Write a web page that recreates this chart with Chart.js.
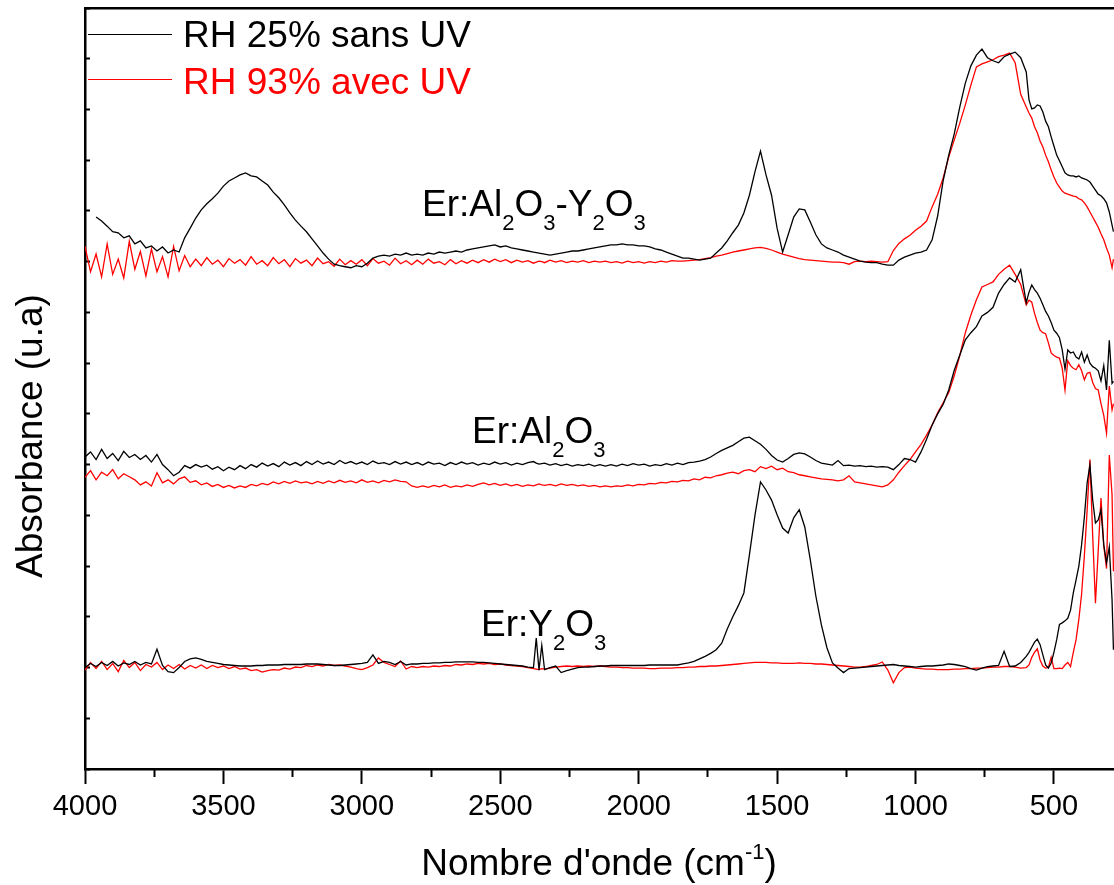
<!DOCTYPE html>
<html>
<head>
<meta charset="utf-8">
<script src="https://cdn.jsdelivr.net/npm/chart.js@4.4.1/dist/chart.umd.min.js"></script>
<style>
  html, body { margin: 0; padding: 0; background: #fff; overflow: hidden; }
  #wrap { position: relative; width: 1114px; height: 885px; font-family: 'Liberation Sans', Arial, sans-serif; }
  #wrap canvas { position: absolute; left: 0; top: 0; }
  .txt { position: absolute; font-size: 37px; line-height: 1; white-space: nowrap; color: #000; }
  .sb { font-size: 22px; position: relative; top: 14px; }
  .sp { font-size: 22px; position: relative; top: -16px; }
  .ln { position: absolute; left: 88px; width: 84px; height: 0; border-top: 1.5px solid #000; }
</style>
</head>
<body>
<div id="wrap">
  <canvas id="spec" width="1114" height="885"></canvas>

  <!-- légende -->
  <div class="ln" style="top:34px"></div>
  <div class="txt" style="left:183px; top:16px">RH 25% sans UV</div>
  <div class="ln" style="top:79px; border-color:#f00"></div>
  <div class="txt" style="left:183px; top:63px; color:#f00">RH 93% avec UV</div>

  <!-- noms des échantillons -->
  <div class="txt" style="left:422px; top:185px">Er:Al<span class="sb">2</span>O<span class="sb">3</span>-Y<span class="sb">2</span>O<span class="sb">3</span></div>
  <div class="txt" style="left:472px; top:412px">Er:Al<span class="sb">2</span>O<span class="sb">3</span></div>
  <div class="txt" style="left:481px; top:605px">Er:Y<span class="sb">2</span>O<span class="sb">3</span></div>

  <!-- titres des axes -->
  <div class="txt" style="left:599px; top:844px; transform:translateX(-50%)">Nombre d'onde (cm<span class="sp">-1</span>)</div>
  <div class="txt" style="left:11px; top:578px; transform-origin:0 0; transform:rotate(-90deg)">Absorbance (u.a)</div>
</div>

<script>
/* ===== données ===== */
const FONT = "'Liberation Sans', Arial, sans-serif";

const majorTicks = [4000, 3500, 3000, 2500, 2000, 1500, 1000, 500];
const minorTicks = [3750, 3250, 2750, 2250, 1750, 1250, 750];

const wavenumber = [
  4000, 3980, 3960, 3940, 3920, 3900, 3880, 3860, 3840, 3820,
  3800, 3780, 3760, 3740, 3720, 3700, 3680, 3660, 3640, 3620,
  3600, 3580, 3560, 3540, 3520, 3500, 3480, 3460, 3440, 3420,
  3400, 3380, 3360, 3340, 3320, 3300, 3280, 3260, 3240, 3220,
  3200, 3180, 3160, 3140, 3120, 3100, 3080, 3060, 3040, 3020,
  3000, 2980, 2960, 2940, 2920, 2900, 2880, 2860, 2840, 2820,
  2800, 2780, 2760, 2740, 2720, 2700, 2680, 2660, 2640, 2620,
  2600, 2580, 2560, 2540, 2520, 2500, 2480, 2460, 2440, 2420,
  2400, 2380, 2370, 2360, 2350, 2340, 2320, 2300, 2280, 2260,
  2240, 2220, 2200, 2180, 2160, 2140, 2120, 2100, 2080, 2060,
  2040, 2020, 2000, 1980, 1960, 1940, 1920, 1900, 1880, 1860,
  1840, 1820, 1800, 1780, 1760, 1740, 1720, 1700, 1680, 1660,
  1640, 1620, 1600, 1580, 1560, 1540, 1520, 1500, 1480, 1460,
  1440, 1420, 1400, 1380, 1360, 1340, 1320, 1300, 1280, 1260,
  1240, 1220, 1200, 1180, 1160, 1140, 1120, 1100, 1080, 1060,
  1040, 1020, 1000, 980, 960, 940, 920, 900, 880, 860,
  840, 820, 800, 780, 760, 740, 720, 700, 680, 660,
  640, 620, 600, 590, 580, 570, 560, 550, 540, 530,
  520, 510, 500, 490, 480, 470, 460, 450, 440, 430,
  420, 410, 400, 390, 380, 370, 360, 350, 340, 330,
  320, 310, 300, 290, 285
];

/* Er:Al2O3-Y2O3 */
const alY_rh25 = [
  null, null, 10.88, 10.80, 10.70, 10.59, 10.57, 10.47, 10.51, 10.35,
  10.41, 10.27, 10.31, 10.21, 10.29, 10.17, 10.23, 10.19, 10.47, 10.66,
  10.86, 11.02, 11.14, 11.24, 11.35, 11.49, 11.59, 11.65, 11.71, 11.75,
  11.69, 11.67, 11.59, 11.51, 11.37, 11.26, 11.12, 10.96, 10.82, 10.70,
  10.59, 10.45, 10.31, 10.17, 10.05, 9.95, 9.92, 9.90, 9.88, 9.92,
  9.90, 9.97, 10.07, 10.11, 10.13, 10.11, 10.15, 10.13, 10.17, 10.13,
  10.15, 10.13, 10.17, 10.15, 10.19, 10.17, 10.19, 10.21, 10.19, 10.23,
  10.25, 10.27, 10.29, 10.31, 10.33, 10.29, 10.31, 10.27, 10.25, 10.23,
  10.21, 10.19, 10.18, 10.17, 10.16, 10.15, 10.13, 10.15, 10.17, 10.19,
  10.21, 10.21, 10.23, 10.25, 10.27, 10.29, 10.31, 10.33, 10.33, 10.35,
  10.33, 10.33, 10.31, 10.31, 10.29, 10.25, 10.23, 10.19, 10.15, 10.11,
  10.07, 10.07, 10.05, 10.03, 10.05, 10.07, 10.17, 10.27, 10.41, 10.57,
  10.72, 10.96, 11.31, 11.77, 12.18, 11.71, 11.31, 10.66, 10.19, 10.53,
  10.88, 11.04, 11.02, 10.78, 10.53, 10.35, 10.27, 10.23, 10.19, 10.13,
  10.09, 10.05, 10.01, 9.99, 9.98, 9.98, 9.95, 9.93, 9.93, 10.03,
  10.09, 10.13, 10.17, 10.19, 10.23, 10.43, 10.90, 11.60, 12.10, 12.52,
  13.05, 13.52, 13.86, 14.07, 14.19, 14.02, 13.96, 13.92, 14.04, 14.09,
  14.13, 14.02, 13.74, 13.19, 13.01, 13.03, 13.09, 13.07, 12.95, 12.77,
  12.66, 12.46, 12.28, 12.10, 11.99, 11.87, 11.75, 11.71, 11.69, 11.69,
  11.67, 11.69, 11.65, 11.63, 11.61, 11.57, 11.49, 11.41, 11.33, 11.30,
  11.24, 11.16, 10.98, 10.72, 10.59
];
const alY_rh93 = [
  10.30, 9.80, 10.15, 9.70, 10.35, 9.75, 10.05, 9.68, 10.40, 9.85,
  10.20, 9.72, 10.25, 9.80, 10.10, 9.70, 10.30, 9.82, 10.12, 9.90,
  10.05, 9.92, 10.08, 9.95, 10.03, 9.90, 10.06, 9.97, 10.04, 9.93,
  10.10, 9.95, 10.02, 9.92, 10.08, 9.96, 10.04, 9.90, 10.06, 9.97,
  10.03, 9.92, 10.07, 9.96, 10.00, 9.91, 10.05, 9.94, 10.02, 9.95,
  10.04, 9.92, 10.06, 9.97, 10.01, 9.93, 10.07, 9.96, 10.02, 9.94,
  10.03, 9.95, 10.05, 9.97, 10.00, 9.94, 10.04, 9.96, 10.02, 9.97,
  10.03, 9.98, 10.04, 9.99, 10.05, 10.00, 10.04, 9.98, 10.03, 9.99,
  10.02, 9.97, 9.99, 10.01, 10.00, 9.98, 10.03, 9.99, 10.02, 9.98,
  10.01, 9.99, 10.02, 9.98, 10.01, 9.99, 10.01, 9.98, 10.00, 9.97,
  10.01, 9.98, 10.00, 9.97, 10.00, 9.98, 10.01, 9.99, 10.02, 10.01,
  10.01, 10.02, 10.03, 10.04, 10.06, 10.08, 10.11, 10.13, 10.16, 10.19,
  10.21, 10.23, 10.25, 10.27, 10.28, 10.26, 10.23, 10.19, 10.15, 10.12,
  10.09, 10.06, 10.04, 10.03, 10.02, 10.01, 10.00, 9.99, 9.99, 9.98,
  9.95, 10.00, 10.01, 10.00, 10.01, 10.00, 9.99, 10.00, 10.22, 10.36,
  10.45, 10.52, 10.62, 10.70, 10.80, 11.08, 11.33, 11.65, 12.06, 12.40,
  12.73, 13.09, 13.48, 13.84, 13.90, 13.94, 13.98, 14.04, 14.07, 14.11,
  13.92, 13.30, 13.05, 12.93, 12.83, 12.66, 12.54, 12.38, 12.26, 12.10,
  11.97, 11.81, 11.67, 11.55, 11.47, 11.39, 11.35, 11.33, 11.31, 11.29,
  11.28, 11.24, 11.22, 11.16, 11.08, 10.98, 10.88, 10.78, 10.68, 10.55,
  10.43, 10.27, 10.13, 9.88, 10.05
];

/* Er:Al2O3 */
const al_rh25 = [
  6.15, 6.25, 6.10, 6.30, 6.12, 6.22, 6.08, 6.26, 6.14, 6.20,
  6.10, 6.18, 6.05, 6.20, 6.00, 5.90, 5.78, 5.85, 5.98, 5.93,
  6.00, 5.95, 5.99, 5.91, 5.96, 5.88, 5.95, 5.90, 5.98, 5.92,
  6.00, 5.95, 6.03, 5.97, 6.02, 5.96, 6.05, 5.99, 6.04, 5.98,
  6.06, 6.00, 6.07, 6.01, 6.05, 6.00, 6.08, 6.02, 6.06, 6.01,
  6.05, 6.00, 6.07, 6.02, 6.04, 6.00, 6.06, 6.01, 6.05, 6.00,
  6.04, 5.99, 6.05, 6.01, 6.03, 5.98, 6.04, 6.00, 6.05, 6.01,
  6.04, 5.99, 6.03, 6.00, 6.05, 6.01, 6.04, 5.99, 6.03, 6.00,
  6.04, 6.06, 6.03, 6.01, 6.02, 6.03, 5.99, 6.02, 5.98, 6.01,
  5.97, 6.00, 5.98, 6.01, 5.97, 6.00, 5.97, 6.00, 5.97, 6.01,
  5.98, 6.02, 5.99, 6.01, 5.97, 6.00, 5.98, 6.02, 5.99, 6.03,
  6.00, 6.04, 6.05, 6.07, 6.10, 6.15, 6.22, 6.28, 6.33, 6.38,
  6.45, 6.52, 6.54, 6.47, 6.40, 6.30, 6.18, 6.09, 6.05, 6.12,
  6.20, 6.23, 6.21, 6.15, 6.08, 6.03, 6.01, 5.99, 6.08, 5.98,
  5.99, 5.97, 5.98, 5.96, 5.97, 5.95, 5.96, 5.95, 5.90, 6.00,
  6.12, 6.10, 6.05, 6.25, 6.50, 6.78, 7.00, 7.19, 7.47, 7.86,
  8.16, 8.46, 8.60, 8.72, 8.93, 9.00, 9.10, 9.38, 9.55, 9.68,
  9.60, 9.84, 9.19, 9.40, 9.54, 9.45, 9.38, 9.28, 9.15, 9.02,
  8.93, 8.80, 8.65, 8.59, 8.50, 8.26, 7.88, 8.26, 8.20, 8.22,
  8.12, 8.08, 8.22, 8.02, 8.16, 8.00, 7.93, 7.90, 7.85, 7.65,
  7.95, 7.47, 8.45, 7.60, 7.64
];
const al_rh93 = [
  5.75, 5.88, 5.70, 5.85, 5.78, 5.90, 5.72, 5.82, 5.76, 5.70,
  5.60, 5.66, 5.58, 5.84, 5.64, 5.70, 5.62, 5.72, 5.76, 5.65,
  5.68, 5.60, 5.64, 5.57, 5.61, 5.55, 5.59, 5.54, 5.58, 5.55,
  5.61, 5.58, 5.63, 5.60, 5.66, 5.62, 5.67, 5.63, 5.68, 5.64,
  5.66, 5.62, 5.67, 5.63, 5.68, 5.64, 5.69, 5.65, 5.68, 5.64,
  5.70, 5.65, 5.68, 5.64, 5.69, 5.66, 5.70, 5.67, 5.66, 5.58,
  5.55, 5.58, 5.55, 5.59, 5.56, 5.60, 5.55, 5.58, 5.56, 5.60,
  5.57, 5.61, 5.64, 5.60, 5.63, 5.59, 5.62, 5.58, 5.61, 5.57,
  5.60, 5.58, 5.60, 5.62, 5.60, 5.59, 5.61, 5.58, 5.62, 5.59,
  5.61, 5.58, 5.60, 5.57, 5.59, 5.56, 5.58, 5.56, 5.58, 5.57,
  5.60, 5.58, 5.61, 5.60, 5.63, 5.62, 5.65, 5.64, 5.67, 5.66,
  5.69, 5.68, 5.72, 5.70, 5.75, 5.74, 5.78, 5.80, 5.83, 5.85,
  5.82, 5.88, 5.90, 5.86, 5.96, 5.92, 5.97, 5.90, 5.93, 5.86,
  5.84, 5.80, 5.78, 5.76, 5.74, 5.72, 5.71, 5.70, 5.68, 5.70,
  5.78, 5.66, 5.64, 5.62, 5.60, 5.58, 5.56, 5.60, 5.70, 5.85,
  5.98, 6.10, 6.25, 6.40, 6.58, 6.78, 7.02, 7.22, 7.42, 7.75,
  8.15, 8.60, 8.95, 9.25, 9.50, 9.55, 9.60, 9.75, 9.85, 9.93,
  9.75, 9.55, 9.15, 9.24, 9.20, 8.98, 8.80, 8.65, 8.60, 8.58,
  8.40, 8.20, 8.15, 8.12, 8.10, 7.90, 7.47, 8.05, 7.95, 7.90,
  7.87, 7.97, 7.85, 7.67, 7.80, 7.82, 7.62, 7.50, 7.47, 7.20,
  6.97, 6.62, 7.55, 7.08, 7.20
];

/* Er:Y2O3 */
const y_rh25 = [
  2.00, 2.08, 2.02, 2.10, 2.04, 2.12, 2.03, 2.09, 2.06, 2.12,
  2.05, 2.10, 2.07, 2.36, 2.04, 1.92, 1.90, 2.00, 2.12, 2.17,
  2.19, 2.16, 2.12, 2.10, 2.08, 2.06, 2.05, 2.04, 2.03, 2.03,
  2.03, 2.04, 2.04, 2.05, 2.05, 2.05, 2.06, 2.06, 2.06, 2.06,
  2.07, 2.07, 2.07, 2.06, 2.05, 2.04, 2.04, 2.05, 2.06, 2.07,
  2.08, 2.10, 2.25, 2.08, 2.12, 2.10, 2.06, 2.12, 2.05, 2.07,
  2.07, 2.08, 2.08, 2.09, 2.09, 2.10, 2.10, 2.11, 2.11, 2.11,
  2.11, 2.10, 2.10, 2.09, 2.08, 2.07, 2.06, 2.05, 2.04, 2.03,
  2.01, 2.00, 2.58, 1.95, 2.44, 1.96, 2.00, 2.03, 1.90, 1.94,
  1.97, 2.00, 2.01, 2.01, 2.02, 2.03, 2.03, 2.04, 2.04, 2.04,
  2.04, 2.04, 2.04, 2.04, 2.05, 2.05, 2.05, 2.05, 2.05, 2.05,
  2.07, 2.09, 2.12, 2.17, 2.22, 2.28, 2.35, 2.48, 2.76, 3.00,
  3.22, 3.47, 4.22, 5.00, 5.66, 5.50, 5.30, 5.01, 4.75, 4.65,
  4.95, 5.11, 4.77, 4.12, 3.41, 2.84, 2.39, 2.09, 1.99, 1.90,
  1.98, 1.99, 2.00, 2.01, 2.02, 2.03, 2.04, 2.05, 2.06, 2.04,
  2.03, 2.02, 2.01, 2.02, 2.03, 2.03, 2.04, 2.05, 2.07, 2.06,
  2.04, 2.02, 1.98, 1.95, 1.99, 2.02, 2.03, 2.04, 2.32, 2.02,
  2.03, 2.10, 2.22, 2.30, 2.40, 2.50, 2.56, 2.45, 2.25, 2.05,
  1.99, 2.09, 2.30, 2.55, 2.85, 2.88, 2.92, 2.97, 3.13, 3.47,
  3.73, 4.00, 4.42, 4.97, 5.64, 5.99, 5.30, 4.85, 4.91, 5.11,
  4.42, 4.06, 4.38, 3.33, 2.35
];
const y_rh93 = [
  1.95, 2.10, 1.98, 2.12, 1.96, 2.08, 1.92, 2.14, 2.00, 2.10,
  1.94, 2.06, 2.01, 2.10, 1.96, 2.05, 1.98, 2.06, 1.97, 2.04,
  1.99, 2.05, 1.98, 2.04, 2.00, 2.03, 1.98, 2.02, 1.97, 1.99,
  1.94, 1.96, 1.91, 1.94, 1.96, 1.95, 1.99, 1.97, 2.01, 2.00,
  2.04, 2.02, 2.05, 2.03, 2.06, 2.04, 2.05, 2.03, 2.01, 1.98,
  1.96, 2.00, 2.05, 2.19, 2.10, 2.06, 2.02, 2.13, 1.97, 2.02,
  2.00, 2.02, 2.01, 2.03, 2.02, 2.04, 2.03, 2.06, 2.05, 2.07,
  2.06, 2.08, 2.07, 2.08, 2.06, 2.07, 2.05, 2.04, 2.03, 2.02,
  2.00, 1.98, 1.97, 1.96, 1.98, 1.97, 1.99, 2.01, 2.02, 2.03,
  2.02, 2.03, 2.02, 2.03, 2.02, 2.03, 2.02, 2.01, 2.01, 2.00,
  2.00, 1.99, 1.99, 1.99, 1.98, 1.98, 1.99, 1.99, 1.99, 2.00,
  2.00, 2.01, 2.01, 2.02, 2.02, 2.03, 2.03, 2.04, 2.05, 2.06,
  2.07, 2.08, 2.09, 2.10, 2.10, 2.10, 2.09, 2.09, 2.08, 2.08,
  2.08, 2.09, 2.08, 2.08, 2.07, 2.07, 2.06, 2.05, 2.04, 2.03,
  2.02, 2.01, 2.01, 2.02, 2.04, 2.06, 2.11, 1.95, 1.70, 1.90,
  2.00, 2.01, 1.99, 1.98, 1.97, 1.97, 1.96, 1.96, 1.96, 1.97,
  1.97, 1.98, 1.98, 1.99, 1.99, 2.00, 2.01, 2.01, 2.02, 2.02,
  2.01, 1.99, 2.00, 2.05, 2.20, 2.30, 2.37, 2.15, 2.03, 1.99,
  2.00, 2.20, 1.98, 1.98, 1.99, 1.98, 2.05, 2.10, 2.02, 2.30,
  2.55, 2.95, 3.45, 4.20, 5.10, 6.10, 4.60, 3.27, 4.30, 5.34,
  4.40, 3.95, 6.19, 5.40, 3.90
];

/* ===== graphique ===== */
const pts = ys => wavenumber.map((w, i) => ({ x: w, y: ys[i] }));
const BLACK = '#000000';
const RED = '#ff0000';

const series = [
  { label: 'RH 25% sans UV', data: alY_rh25, c: BLACK },
  { label: 'RH 93% avec UV', data: alY_rh93, c: RED },
  { label: 'RH 25% sans UV', data: al_rh25, c: BLACK },
  { label: 'RH 93% avec UV', data: al_rh93, c: RED },
  { label: 'RH 25% sans UV', data: y_rh25, c: BLACK },
  { label: 'RH 93% avec UV', data: y_rh93, c: RED },
];

const xRange = { type: 'linear', min: 283, max: 4000, reverse: true };
const fixTicks = vals => s => { s.ticks = vals.map(v => ({ value: v })); };

new Chart(document.getElementById('spec').getContext('2d'), {
  type: 'line',
  data: {
    datasets: series.map(s => ({
      label: s.label,
      data: pts(s.data),
      borderColor: s.c,
      backgroundColor: s.c,
      borderWidth: 1.3,
      pointRadius: 0,
      tension: 0,
      fill: false,
    })),
  },
  options: {
    responsive: false,
    animation: false,
    events: [],
    layout: { padding: 0 },
    plugins: { legend: { display: false }, tooltip: { enabled: false } },
    scales: {
      x: {
        ...xRange, position: 'bottom', weight: 1,
        afterBuildTicks: fixTicks(majorTicks),
        ticks: { autoSkip: false, maxRotation: 0, padding: 6, color: '#000',
                 font: { family: FONT, size: 29 }, callback: v => String(v) },
        grid: { drawOnChartArea: false, tickLength: 15, tickWidth: 2, tickColor: '#000' },
        border: { color: '#000', width: 2.5 },
        afterFit: s => { s.height = 116; },
      },
      xMinor: {
        ...xRange, position: 'bottom', weight: 0,
        afterBuildTicks: fixTicks(minorTicks),
        ticks: { display: false, autoSkip: false },
        grid: { drawOnChartArea: false, tickLength: 8, tickWidth: 2, tickColor: '#000' },
        border: { display: false },
        afterFit: s => { s.height = 0; },
      },
      xTop: {
        ...xRange, position: 'top',
        afterBuildTicks: fixTicks(majorTicks),
        ticks: { display: false },
        grid: { drawOnChartArea: false, drawTicks: false },
        border: { color: '#000', width: 2.5 },
        afterFit: s => { s.height = 8; },
      },
      y: {
        min: 0, max: 15,
        ticks: { display: false, stepSize: 1 },
        grid: { drawOnChartArea: false, tickLength: -5, tickWidth: 2, tickColor: '#000' },
        border: { color: '#000', width: 2.5 },
        afterFit: s => { s.width = 85; },
      },
    },
  },
});
</script>
</body>
</html>
